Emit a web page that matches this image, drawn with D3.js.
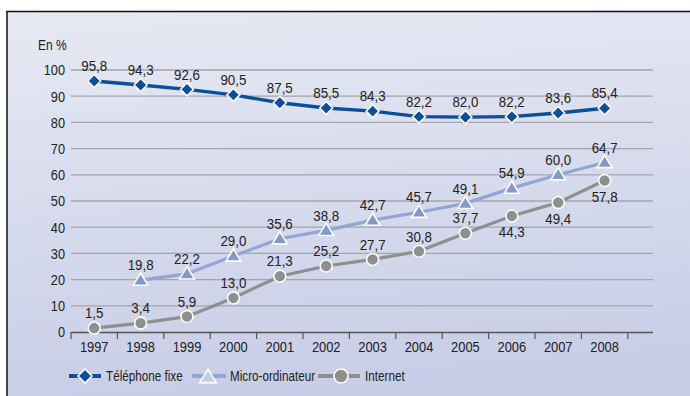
<!DOCTYPE html>
<html>
<head>
<meta charset="utf-8">
<script src="https://cdn.jsdelivr.net/npm/d3@7"></script>
<style>
  html, body { margin: 0; padding: 0; background: #ffffff; }
  svg { display: block; }
  text { font-family: "Liberation Sans", Arial, sans-serif; fill: #222; }
</style>
</head>
<body>
<svg id="chart" width="690" height="396"></svg>
<script>
// Equipment rates of households, in %
const years = ["1997","1998","1999","2000","2001","2002","2003","2004","2005","2006","2007","2008"];
const telephone = [95.8, 94.3, 92.6, 90.5, 87.5, 85.5, 84.3, 82.2, 82.0, 82.2, 83.6, 85.4];
const micro     = [null, 19.8, 22.2, 29.0, 35.6, 38.8, 42.7, 45.7, 49.1, 54.9, 60.0, 64.7];
const internet  = [1.5, 3.4, 5.9, 13.0, 21.3, 25.2, 27.7, 30.8, 37.7, 44.3, 49.4, 57.8];
// label placement for the internet series: above or below the point
const internetLabelBelow = [false,false,false,false,false,false,false,false,false,true,true,true];
const yTicks = [0, 10, 20, 30, 40, 50, 60, 70, 80, 90, 100];
const seriesNames = ["Téléphone fixe", "Micro-ordinateur", "Internet"];

const svg = d3.select("#chart");

// condensed text: regular face squeezed horizontally around its anchor point
function ctext(g, px, py, str, size, sx, anchor) {
  return g.append("text")
    .attr("transform", `translate(${px},${py}) scale(${sx},1)`)
    .attr("dy", "0.36em")
    .attr("text-anchor", anchor || "start")
    .attr("font-size", size)
    .text(str);
}

// background panel with a soft vertical gradient
const defs = svg.append("defs");
const grad = defs.append("linearGradient").attr("id", "bg").attr("x1", 0).attr("y1", 0).attr("x2", 0.15).attr("y2", 1);
grad.append("stop").attr("offset", "0%").attr("stop-color", "#e7e9f3");
grad.append("stop").attr("offset", "100%").attr("stop-color", "#c8cee7");
svg.append("rect").attr("x", 7).attr("y", 11).attr("width", 683).attr("height", 385).attr("fill", "url(#bg)");
svg.append("line").attr("x1", 6).attr("x2", 690).attr("y1", 11.5).attr("y2", 11.5).attr("stroke", "#111").attr("stroke-width", 1.5);
svg.append("line").attr("x1", 7).attr("x2", 7).attr("y1", 11).attr("y2", 396).attr("stroke", "#111").attr("stroke-width", 1.5);

const plotLeft = 71, plotRight = 653, plotTop = 70, plotBottom = 332;
const x = d3.scaleBand().domain(years).range([plotLeft, plotLeft + 12 * 46.4]).paddingInner(0).paddingOuter(0);
const y = d3.scaleLinear().domain([0, 100]).range([plotBottom, plotTop]);
const cx = d => x(d) + x.bandwidth() / 2;

// horizontal grid
svg.append("g").selectAll("line").data(yTicks.filter(t => t > 0)).join("line")
  .attr("x1", plotLeft).attr("x2", plotRight)
  .attr("y1", d => y(d)).attr("y2", d => y(d))
  .attr("stroke", "#a3a5ad").attr("stroke-width", 1.3);

// y labels
const yLab = svg.append("g");
yTicks.forEach(t => ctext(yLab, 65, y(t), String(t), 15, 0.85, "end"));
ctext(svg, 38, 45, "En %", 15, 0.8, "start");

// x axis
svg.append("line").attr("x1", plotLeft).attr("x2", plotRight).attr("y1", plotBottom + 0.5).attr("y2", plotBottom + 0.5)
  .attr("stroke", "#555").attr("stroke-width", 1.3);
const tickXs = years.map(d => x(d)).concat([x(years[years.length - 1]) + x.bandwidth()]);
svg.append("g").selectAll("line").data(tickXs).join("line")
  .attr("x1", d => d).attr("x2", d => d).attr("y1", plotBottom).attr("y2", plotBottom + 7)
  .attr("stroke", "#555").attr("stroke-width", 1.2);
const xLab = svg.append("g");
years.forEach(yr => ctext(xLab, cx(yr), 347, yr, 15, 0.86, "middle"));

const colTel = "#0b4e9b", colMicro = "#93a5d6", colMicroFill = "#8398cc", colNet = "#8f8f8f";

function drawSeries(values, lineColor, width) {
  const pts = years.map((yr, i) => ({yr, v: values[i], i})).filter(p => p.v != null);
  const line = d3.line().x(p => cx(p.yr)).y(p => y(p.v));
  svg.append("path").datum(pts).attr("d", line).attr("fill", "none")
    .attr("stroke", lineColor).attr("stroke-width", width).attr("stroke-linejoin", "round");
  return pts;
}

const diamondPath = s => `M0,${-s}L${s},0L0,${s}L${-s},0Z`;
const triPath = s => `M0,${-s * 1.05}L${s * 1.1},${s * 0.75}L${-s * 1.1},${s * 0.75}Z`;

// telephone
const telPts = drawSeries(telephone, colTel, 3.4);
svg.append("g").selectAll("path").data(telPts).join("path")
  .attr("transform", p => `translate(${cx(p.yr)},${y(p.v)})`)
  .attr("d", diamondPath(6.5)).attr("fill", colTel).attr("stroke", "#fff").attr("stroke-width", 1.5);

// micro
const microPts = drawSeries(micro, colMicro, 3.2);
svg.append("g").selectAll("path").data(microPts).join("path")
  .attr("transform", p => `translate(${cx(p.yr)},${y(p.v)})`)
  .attr("d", triPath(6.8)).attr("fill", colMicroFill).attr("stroke", "#fff").attr("stroke-width", 1.6);

// internet
const netPts = drawSeries(internet, colNet, 3.2);
svg.append("g").selectAll("circle").data(netPts).join("circle")
  .attr("cx", p => cx(p.yr)).attr("cy", p => y(p.v)).attr("r", 6)
  .attr("fill", colNet).attr("stroke", "#fff").attr("stroke-width", 1.6);

const fmt = v => v.toFixed(1).replace(".", ",");
function labels(pts, belowArr) {
  const g = svg.append("g");
  pts.forEach(p => {
    const dy = (belowArr && belowArr[p.i]) ? 16 : -15;
    ctext(g, cx(p.yr), y(p.v) + dy, fmt(p.v), 14.5, 0.92, "middle");
  });
}
labels(telPts);
labels(microPts);
labels(netPts, internetLabelBelow);

// legend
const legend = svg.append("g");
const ly = 376;
const items = [
  {name: seriesNames[0], x1: 69, x2: 101, m: 85, tx: 106, kind: "diamond"},
  {name: seriesNames[1], x1: 192, x2: 226, m: 208, tx: 230, kind: "tri"},
  {name: seriesNames[2], x1: 318, x2: 360, m: 341, tx: 365, kind: "circle"}
];
items.forEach(it => {
  const c = it.kind === "diamond" ? colTel : it.kind === "tri" ? colMicro : colNet;
  legend.append("line").attr("x1", it.x1).attr("x2", it.x2).attr("y1", ly).attr("y2", ly)
    .attr("stroke", c).attr("stroke-width", 4);
  if (it.kind === "diamond") {
    legend.append("path").attr("transform", `translate(${it.m},${ly})`).attr("d", diamondPath(7))
      .attr("fill", colTel).attr("stroke", "#fff").attr("stroke-width", 1.6);
  } else if (it.kind === "tri") {
    legend.append("path").attr("transform", `translate(${it.m},${ly + 1})`).attr("d", triPath(7.5))
      .attr("fill", "#c3cbe6").attr("stroke", "#fff").attr("stroke-width", 1.6);
  } else {
    legend.append("circle").attr("cx", it.m).attr("cy", ly).attr("r", 7)
      .attr("fill", colNet).attr("stroke", "#fff").attr("stroke-width", 1.6);
  }
  ctext(legend, it.tx, ly, it.name, 15, 0.78, "start");
});
</script>
</body>
</html>
